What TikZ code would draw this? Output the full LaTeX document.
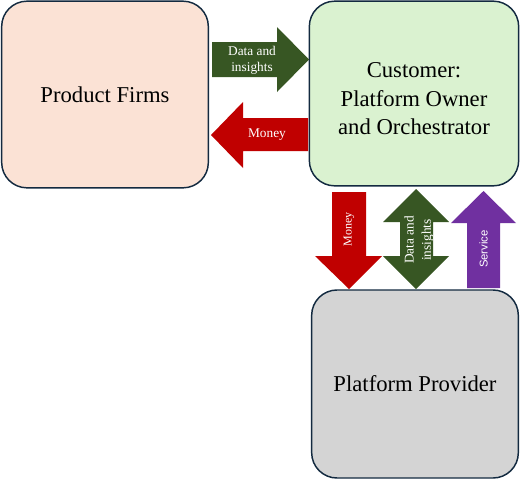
\documentclass[tikz,border=0pt]{standalone}
\usepackage{fontspec}
\setmainfont{Liberation Serif}
\newfontfamily\arialfont{Liberation Sans}
\usetikzlibrary{positioning}

\definecolor{peachfill}{HTML}{FBE2D5}
\definecolor{mintfill}{HTML}{DAF2D0}
\definecolor{greyfill}{HTML}{D4D4D4}
\definecolor{navyline}{HTML}{132A40}
\definecolor{flowgreen}{HTML}{375623}
\definecolor{flowred}{HTML}{C00000}
\definecolor{flowpurple}{HTML}{7030A0}

\tikzset{
  party/.style={draw=navyline,line width=1.1pt,rounded corners=19pt,align=center,
    minimum width=155pt,minimum height=140pt,font=\fontsize{17}{21.5}\selectfont},
  flowlbl/.style={text=white,align=center,inner sep=0pt,font=\fontsize{10}{12}\selectfont}
}

\begin{document}
\begin{tikzpicture}[x=0.75pt,y=-0.75pt]
\useasboundingbox (0,0) rectangle (520,479);

% the three parties
\node[party,fill=peachfill] (firms) at (105,94.5) {Product Firms};
\node[party,fill=mintfill,minimum width=157pt,minimum height=138.5pt] (cust) at (414,93.5) {};
\node[align=center,font=\fontsize{17}{21.5}\selectfont] (custtext) at ([yshift=-4pt]cust.center)
  {Customer:\\Platform Owner\\and Orchestrator};
\node[party,fill=greyfill,minimum height=141pt] (prov) at (415,384) {Platform Provider};

% firms <-> customer
\fill[flowgreen] (212,42) -- (277,42) -- (277,27) -- (309,59.5) -- (277,92) -- (277,77) -- (212,77) -- cycle;
\node[flowlbl] (datainfo) at (252,60) {Data and\\insights};
\fill[flowred] (308,118) -- (243,118) -- (243,102) -- (211,135) -- (243,168) -- (243,151) -- (308,151) -- cycle;
\node[flowlbl] (moneyin) at (267,135) {Money};

% customer <-> provider
\fill[flowred] (332,192) -- (366,192) -- (366,256) -- (382,256) -- (349,289) -- (315,256) -- (332,256) -- cycle;
\node[flowlbl,rotate=90,font=\fontsize{9}{12}\selectfont] (moneyout) at (349,229) {Money};
\fill[flowgreen] (416,189) -- (449,222) -- (433,222) -- (433,256) -- (449,256) -- (416,289)
  -- (383,256) -- (400,256) -- (400,222) -- (383,222) -- cycle;
\node[flowlbl,rotate=90,font=\fontsize{10}{13}\selectfont] (dataup) at (419,240) {Data and\\insights};
\fill[flowpurple] (467,288) -- (500,288) -- (500,223) -- (516,223) -- (483.5,191) -- (451,223) -- (467,223) -- cycle;
\node[flowlbl,rotate=90,font=\arialfont\fontsize{8.5}{10}\selectfont] (service) at (483.5,249) {Service};
\end{tikzpicture}
\end{document}
